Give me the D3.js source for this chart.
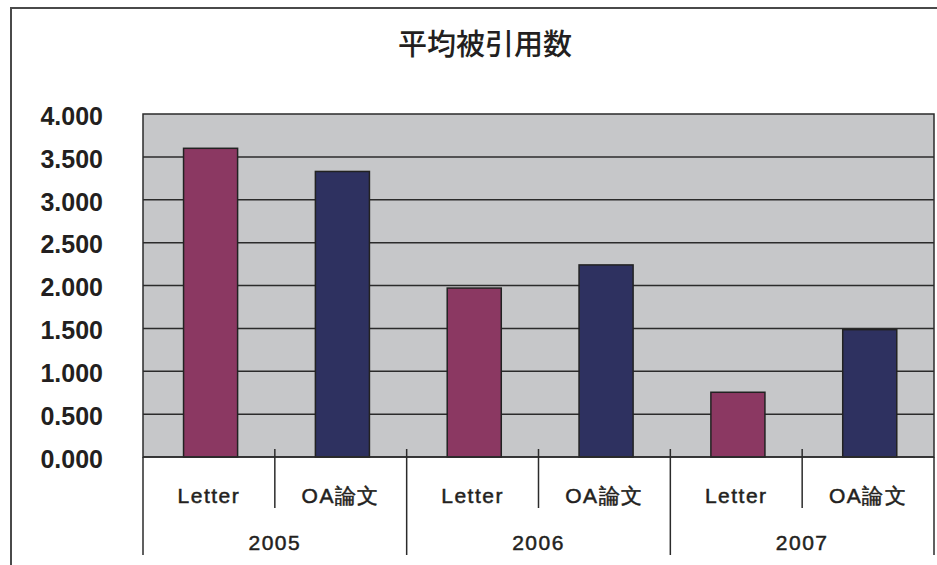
<!DOCTYPE html>
<meta charset="utf-8">
<style>
body { margin: 0; background: #fff; }
svg { display: block; }
.lbl { font-family: "Liberation Sans", Arial, sans-serif; fill: #231f20; font-weight: bold; }
.cat { font-family: "Liberation Sans", Arial, sans-serif; fill: #231f20; stroke: #231f20; stroke-width: 0.5px; }
.title { font-family: "Noto Sans CJK JP", sans-serif; font-size: 29px; font-weight: 500; fill: #231f20; }
</style>
<div id="chart"></div>
<script src="https://cdnjs.cloudflare.com/ajax/libs/d3/7.8.5/d3.min.js"></script>
<script>
var years = ["2005", "2006", "2007"];
var kinds = ["Letter", "OA論文"];
var letterValues = [3.60, 1.97, 0.755];
var oaValues = [3.33, 2.24, 1.485];
var yTicks = [0, 0.5, 1, 1.5, 2, 2.5, 3, 3.5, 4];

var W = 937, H = 565;
var plotLeft = 143, plotRight = 934, plotTop = 114, plotBottom = 457;

var rows = [];
years.forEach(function(yr, i) {
  rows.push({ year: yr, kind: kinds[0], value: letterValues[i] });
  rows.push({ year: yr, kind: kinds[1], value: oaValues[i] });
});
rows.forEach(function(d) { d.key = d.year + "-" + d.kind; });

var svg = d3.select("#chart").append("svg")
  .attr("width", W).attr("height", H);

// outer frame
svg.append("rect")
  .attr("x", 11).attr("y", 8).attr("width", 960).attr("height", 600)
  .attr("fill", "none").attr("stroke", "#4a4a4a").attr("stroke-width", 2);

svg.append("text").attr("class", "title")
  .attr("x", 485).attr("y", 55).attr("text-anchor", "middle")
  .text("平均被引用数");

var x = d3.scaleBand().domain(rows.map(function(d) { return d.key; }))
  .range([plotLeft, plotRight]).padding(0);
var xYear = d3.scaleBand().domain(years).range([plotLeft, plotRight]).padding(0);
var y = d3.scaleLinear().domain([0, 4]).range([plotBottom, plotTop]);

// plot background
svg.append("rect")
  .attr("x", plotLeft).attr("y", plotTop)
  .attr("width", plotRight - plotLeft).attr("height", plotBottom - plotTop)
  .attr("fill", "#c6c7c9").attr("stroke", "#2b2b2b").attr("stroke-width", 1.5);

// gridlines
svg.append("g").selectAll("line").data(yTicks.filter(function(t) { return t > 0 && t < 4; }))
  .enter().append("line")
  .attr("x1", plotLeft).attr("x2", plotRight)
  .attr("y1", function(d) { return y(d); }).attr("y2", function(d) { return y(d); })
  .attr("stroke", "#2b2b2b").attr("stroke-width", 1.5);

// y labels
svg.append("g").selectAll("text").data(yTicks)
  .enter().append("text").attr("class", "lbl")
  .attr("x", 103).attr("y", function(d) { return y(d) + 2; })
  .attr("dy", "0.35em")
  .attr("text-anchor", "end")
  .style("font-size", "25px")
  .text(function(d) { return d3.format(".3f")(d); });

// bars
svg.append("g").selectAll("rect").data(rows)
  .enter().append("rect")
  .attr("x", function(d) { return x(d.key) + x.bandwidth() * 0.3 + 1; })
  .attr("width", x.bandwidth() * 0.41)
  .attr("y", function(d) { return y(d.value); })
  .attr("height", function(d) { return y(0) - y(d.value); })
  .attr("fill", function(d) { return d.kind === "Letter" ? "#8b3862" : "#2e3160"; })
  .attr("stroke", "#222").attr("stroke-width", 1.5);

// axis line
svg.append("line")
  .attr("x1", plotLeft).attr("x2", plotRight).attr("y1", plotBottom).attr("y2", plotBottom)
  .attr("stroke", "#2b2b2b").attr("stroke-width", 1.5);

// category dividers
var catEdges = rows.map(function(d) { return x(d.key); }).concat([plotRight]);
svg.append("g").selectAll("line").data(catEdges)
  .enter().append("line")
  .attr("x1", function(d) { return d; }).attr("x2", function(d) { return d; })
  .attr("y1", function(d, i) { return (i === 0 || i === catEdges.length - 1) ? plotBottom : plotBottom - 8; })
  .attr("y2", function(d, i) { return i % 2 === 0 ? 555 : 508; })
  .attr("stroke", "#2b2b2b").attr("stroke-width", 1.5);

// category labels
svg.append("g").selectAll("text").data(rows)
  .enter().append("text").attr("class", "cat")
  .attr("x", function(d) { return x(d.key) + x.bandwidth() / 2; })
  .attr("y", 503)
  .attr("text-anchor", "middle")
  .style("font-size", "21px").style("letter-spacing", "1.5px")
  .text(function(d) { return d.kind; });

// year labels
svg.append("g").selectAll("text").data(years)
  .enter().append("text").attr("class", "cat")
  .attr("x", function(d) { return xYear(d) + xYear.bandwidth() / 2; })
  .attr("y", 550)
  .attr("text-anchor", "middle")
  .style("font-size", "21px").style("letter-spacing", "1.5px")
  .text(function(d) { return d; });
</script>
